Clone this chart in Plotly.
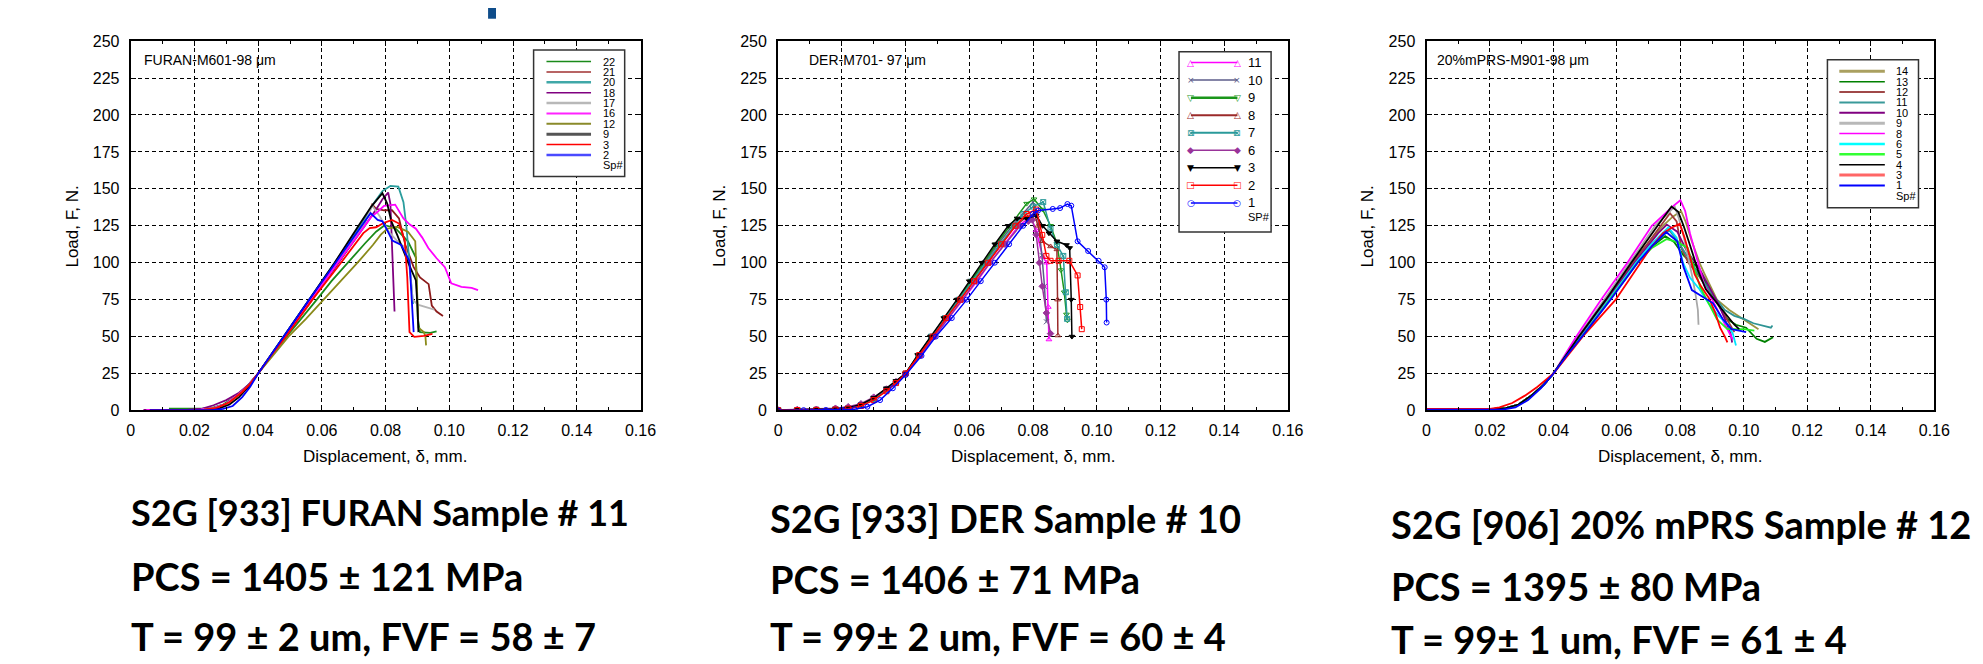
import plotly.graph_objects as go

W, H = 1983, 664

# ---------------- axis ticks ----------------
X_TICKS = [0, 0.02, 0.04, 0.06, 0.08, 0.10, 0.12, 0.14, 0.16]
X_TICKTEXT = ["0", "0.02", "0.04", "0.06", "0.08", "0.10", "0.12", "0.14", "0.16"]
Y_TICKS = [0, 25, 50, 75, 100, 125, 150, 175, 200, 225, 250]
Y_TICKTEXT = ["0", "25", "50", "75", "100", "125", "150", "175", "200", "225", "250"]

# ---------------- Panel 1: FURAN ----------------
F22_x = [0.012, 0.018, 0.0225, 0.026, 0.029, 0.032, 0.035, 0.0375, 0.040, 0.044, 0.049, 0.054, 0.0584, 0.063, 0.068, 0.0735, 0.077, 0.0797, 0.083, 0.087, 0.0895, 0.0901, 0.0908, 0.094, 0.096]
F22_y = [1.2, 1.2, 1.2, 2.0, 4.0, 8.0, 13.0, 18.5, 25.0, 37.0, 50.0, 63.0, 75.0, 87.5, 100.0, 113.0, 121.0, 125.4, 123.5, 114.5, 103.5, 62.0, 53.0, 52.5, 53.5]
F21_x = [0.005, 0.015, 0.022, 0.026, 0.030, 0.034, 0.037, 0.040, 0.044, 0.0485, 0.057, 0.0652, 0.073, 0.0758, 0.077, 0.0795, 0.082, 0.0842, 0.0862, 0.0888, 0.0908, 0.0935, 0.0945, 0.096, 0.098]
F21_y = [0.3, 0.4, 0.6, 1.5, 4.5, 11.0, 17.0, 25.0, 37.0, 50.0, 75.0, 100.0, 125.0, 139.5, 136.5, 135.5, 135.5, 130.0, 112.0, 97.0, 90.0, 85.5, 71.0, 67.0, 64.0]
F20_x = [0.006, 0.016, 0.022, 0.026, 0.030, 0.034, 0.037, 0.040, 0.044, 0.048, 0.056, 0.0642, 0.072, 0.0765, 0.079, 0.0815, 0.084, 0.0856, 0.0865, 0.0875, 0.0882, 0.0886]
F20_y = [0.3, 0.4, 0.6, 1.5, 4.5, 11.0, 17.5, 25.0, 37.5, 50.0, 75.0, 100.0, 125.0, 141.0, 148.5, 152.0, 151.5, 141.0, 125.0, 100.0, 84.0, 72.0]
F18_x = [0.004, 0.012, 0.018, 0.0225, 0.026, 0.030, 0.034, 0.037, 0.040, 0.044, 0.0485, 0.0568, 0.0652, 0.0735, 0.077, 0.079, 0.0808, 0.0815, 0.082, 0.0824, 0.0828]
F18_y = [0.3, 0.4, 0.6, 1.2, 3.5, 7.0, 12.0, 17.5, 25.0, 37.0, 50.0, 75.0, 100.0, 125.0, 136.0, 143.0, 147.5, 140.0, 112.0, 85.0, 67.0]
F17_x = [0.005, 0.015, 0.022, 0.026, 0.030, 0.034, 0.037, 0.040, 0.044, 0.0485, 0.057, 0.0648, 0.073, 0.0758, 0.078, 0.081, 0.0835, 0.0862, 0.0876, 0.0885, 0.0901, 0.093, 0.0953]
F17_y = [0.3, 0.4, 0.6, 1.5, 4.5, 11.0, 17.0, 25.0, 37.0, 50.0, 75.0, 100.0, 125.0, 138.5, 132.0, 121.0, 115.0, 110.0, 95.0, 75.0, 71.6, 69.5, 68.3]
F16_x = [0.005, 0.015, 0.022, 0.026, 0.030, 0.034, 0.037, 0.040, 0.044, 0.0485, 0.0565, 0.065, 0.073, 0.0755, 0.0775, 0.0795, 0.083, 0.0856, 0.0875, 0.0895, 0.0915, 0.0934, 0.096, 0.0986, 0.1006, 0.1038, 0.107, 0.109]
F16_y = [0.3, 0.4, 0.6, 1.5, 4.5, 11.0, 17.0, 25.0, 37.0, 50.0, 75.0, 100.0, 124.0, 131.0, 134.5, 138.5, 139.3, 130.0, 126.0, 123.0, 117.0, 110.0, 103.0, 97.0, 86.0, 83.7, 83.0, 81.5]
F12_x = [0.006, 0.016, 0.023, 0.027, 0.031, 0.035, 0.0375, 0.040, 0.0445, 0.0495, 0.055, 0.0606, 0.066, 0.0712, 0.076, 0.0785, 0.0805, 0.0836, 0.087, 0.0893, 0.0899, 0.0903, 0.092, 0.0925, 0.0927]
F12_y = [0.3, 0.4, 0.6, 1.8, 5.5, 12.5, 18.0, 25.0, 37.0, 50.0, 62.0, 75.0, 88.0, 100.0, 112.0, 119.0, 123.0, 124.3, 121.0, 114.5, 80.0, 56.0, 53.0, 50.0, 44.0]
F9_x = [0.008, 0.018, 0.025, 0.028, 0.031, 0.034, 0.037, 0.040, 0.044, 0.048, 0.056, 0.064, 0.0715, 0.0755, 0.079, 0.0805, 0.0818, 0.0836, 0.0869, 0.0895, 0.090, 0.0903]
F9_y = [0.2, 0.3, 0.5, 1.5, 4.0, 9.0, 16.0, 25.0, 37.5, 50.0, 75.0, 100.0, 125.0, 138.0, 147.0, 140.0, 128.0, 119.0, 101.0, 88.0, 70.0, 53.0]
F3_x = [0.006, 0.016, 0.023, 0.027, 0.031, 0.035, 0.0375, 0.040, 0.044, 0.0487, 0.057, 0.066, 0.0705, 0.073, 0.075, 0.077, 0.0795, 0.082, 0.0842, 0.086, 0.0868, 0.0875, 0.089, 0.092, 0.0947]
F3_y = [0.3, 0.4, 0.6, 1.8, 5.5, 12.5, 18.0, 25.0, 37.0, 50.0, 75.0, 100.0, 113.0, 120.0, 123.5, 124.0, 127.0, 129.0, 126.5, 115.0, 90.0, 53.0, 49.8, 50.5, 51.8]
F2_x = [0.006, 0.016, 0.026, 0.029, 0.032, 0.035, 0.0375, 0.040, 0.044, 0.048, 0.056, 0.0643, 0.0725, 0.0753, 0.0775, 0.079, 0.0805, 0.0821, 0.0849, 0.0875, 0.0882, 0.0888]
F2_y = [0.2, 0.3, 0.3, 1.0, 3.0, 9.0, 16.0, 25.0, 37.5, 50.0, 75.0, 100.0, 125.0, 133.5, 129.0, 128.0, 122.0, 115.0, 112.0, 101.0, 75.0, 53.0]

FURAN_NAMES = ["22", "21", "20", "18", "17", "16", "12", "9", "3", "2"]
FURAN_COLORS = ["#1a8a1a", "#8b1a1a", "#2a9d9d", "#800080", "#b4b4b4", "#ff00ff", "#8a8a1a", "#000000", "#ff0000", "#0000ff"]
FURAN_LEG_COLORS = ["#1a8a1a", "#a03030", "#40a8a8", "#800080", "#b8b8b8", "#ff22ff", "#8a8a2a", "#555555", "#ff0000", "#4a4aff"]
FURAN_LEG_WIDTHS = [1.5, 1.5, 2.5, 1.5, 2.5, 2, 2, 3, 1.5, 2.5]

# ---------------- Panel 2: DER ----------------
D11_x = [0.0, 0.006, 0.012, 0.018, 0.022, 0.026, 0.030, 0.034, 0.037, 0.040, 0.0445, 0.049, 0.0535, 0.058, 0.0625, 0.0665, 0.071, 0.0755, 0.0785, 0.0795, 0.081, 0.083, 0.0843, 0.0848, 0.085]
D11_y = [0.3, 0.4, 0.5, 0.8, 1.5, 3.5, 8.0, 14.0, 19.0, 25.0, 37.0, 50.0, 62.5, 75.0, 87.5, 100.0, 112.5, 125.0, 130.0, 130.0, 122.0, 104.0, 100.0, 70.0, 48.0]
D10_x = [0.0, 0.006, 0.012, 0.018, 0.022, 0.026, 0.030, 0.034, 0.037, 0.040, 0.044, 0.048, 0.0525, 0.0565, 0.0605, 0.0648, 0.069, 0.0735, 0.077, 0.080, 0.0815, 0.0828, 0.0836, 0.0842]
D10_y = [0.4, 0.3, 0.6, 1.0, 1.8, 4.0, 8.5, 14.5, 19.5, 25.0, 37.0, 50.0, 62.5, 75.0, 87.5, 100.0, 112.5, 125.0, 134.0, 141.0, 130.0, 105.0, 84.0, 60.0]
D9_x = [0.0, 0.006, 0.012, 0.018, 0.022, 0.026, 0.030, 0.034, 0.037, 0.040, 0.044, 0.048, 0.0522, 0.0565, 0.0605, 0.0645, 0.0685, 0.0728, 0.078, 0.0803, 0.083, 0.0855, 0.0875, 0.0888, 0.0898, 0.0905, 0.0908]
D9_y = [0.2, 0.4, 0.5, 0.7, 1.2, 3.0, 7.5, 14.0, 19.5, 25.0, 37.5, 50.0, 62.5, 75.0, 87.5, 100.0, 112.5, 125.0, 140.0, 143.0, 136.0, 125.0, 113.0, 95.0, 80.0, 65.0, 61.0]
D8_x = [0.0, 0.006, 0.012, 0.018, 0.022, 0.026, 0.030, 0.034, 0.037, 0.040, 0.0443, 0.0485, 0.0528, 0.057, 0.0612, 0.0655, 0.070, 0.0745, 0.078, 0.0805, 0.0815, 0.0829, 0.0855, 0.0875, 0.0877, 0.0878]
D8_y = [0.3, 0.5, 0.4, 0.9, 1.6, 3.8, 8.0, 14.0, 19.0, 25.0, 37.5, 50.0, 62.5, 75.0, 87.5, 100.0, 112.5, 125.0, 131.0, 133.0, 125.0, 114.5, 111.0, 109.0, 75.0, 50.7]
D7_x = [0.0, 0.006, 0.012, 0.018, 0.022, 0.026, 0.030, 0.034, 0.037, 0.040, 0.044, 0.048, 0.0524, 0.0568, 0.061, 0.0652, 0.0696, 0.074, 0.077, 0.080, 0.0832, 0.0855, 0.0875, 0.0895, 0.0903, 0.0907]
D7_y = [0.3, 0.3, 0.5, 0.8, 1.4, 3.4, 7.8, 14.0, 19.0, 25.0, 37.0, 50.0, 62.5, 75.0, 87.5, 100.0, 112.5, 125.0, 133.0, 138.0, 141.0, 123.0, 112.0, 104.6, 80.0, 62.0]
D6_x = [0.0, 0.006, 0.012, 0.018, 0.022, 0.026, 0.030, 0.034, 0.037, 0.040, 0.0445, 0.049, 0.0535, 0.0578, 0.0622, 0.0665, 0.0712, 0.076, 0.0785, 0.0798, 0.081, 0.082, 0.0829, 0.0842, 0.0855]
D6_y = [0.3, 0.6, 0.8, 1.5, 2.5, 4.5, 9.0, 14.5, 19.5, 25.0, 37.0, 50.0, 62.5, 75.0, 87.5, 100.0, 112.5, 125.0, 128.0, 129.0, 119.0, 100.0, 84.0, 66.0, 52.0]
D3_x = [0.0, 0.006, 0.012, 0.018, 0.022, 0.026, 0.030, 0.034, 0.037, 0.040, 0.0438, 0.0478, 0.052, 0.0561, 0.060, 0.0639, 0.068, 0.0722, 0.075, 0.078, 0.081, 0.083, 0.085, 0.0875, 0.0905, 0.0915, 0.092, 0.0922]
D3_y = [0.3, 0.4, 0.5, 0.9, 1.8, 4.0, 8.5, 15.0, 20.0, 25.0, 37.5, 50.0, 62.5, 75.0, 87.5, 100.0, 112.5, 125.0, 130.0, 130.0, 132.0, 125.0, 120.0, 114.5, 112.0, 110.0, 75.0, 50.0]
D2_x = [0.0, 0.006, 0.012, 0.018, 0.022, 0.026, 0.030, 0.034, 0.037, 0.040, 0.0443, 0.0485, 0.0528, 0.0572, 0.0615, 0.0658, 0.070, 0.0745, 0.078, 0.081, 0.0829, 0.0842, 0.0855, 0.088, 0.0914, 0.094, 0.0948, 0.0953]
D2_y = [0.2, 0.3, 0.4, 0.6, 1.2, 3.0, 7.0, 13.0, 18.5, 25.0, 37.5, 50.0, 62.5, 75.0, 87.5, 100.0, 112.5, 125.0, 133.0, 136.0, 118.8, 104.6, 101.3, 101.3, 101.3, 91.4, 70.0, 55.0]
D1_x = [0.0, 0.008, 0.015, 0.020, 0.024, 0.028, 0.032, 0.036, 0.040, 0.045, 0.0495, 0.0545, 0.0592, 0.0636, 0.068, 0.0725, 0.0769, 0.080, 0.0816, 0.0862, 0.0885, 0.0908, 0.092, 0.094, 0.0973, 0.1006, 0.1025, 0.103, 0.1031]
D1_y = [0.0, 0.2, 0.3, 0.4, 0.8, 2.5, 7.0, 15.0, 24.0, 37.0, 50.0, 62.5, 75.0, 87.5, 100.0, 112.5, 125.0, 133.0, 135.3, 136.4, 137.0, 139.7, 138.6, 114.5, 107.9, 101.3, 96.9, 75.0, 59.5]

DER_NAMES = ["11", "10", "9", "8", "7", "6", "3", "2", "1"]
DER_COLORS = ["#ff00ff", "#5c5c8a", "#1a961a", "#9b2a2a", "#2a9a9a", "#993399", "#000000", "#ff0000", "#0000ff"]
DER_SYMBOLS = ["triangle-up-open", "x-thin", "triangle-down-open", "triangle-up-open", "square-x-open",
               "diamond", "triangle-down", "square-open", "circle-open"]
DER_GLYPHS = ["\u25b3", "\u00d7", "\u25bd", "\u25b3", "\u22a0", "\u25c6", "\u25bc", "\u25a1", "\u25cb"]
DER_LEG_WIDTHS = [1.5, 1.5, 2.5, 2, 2, 1.5, 1.5, 1.5, 1.5]

# ---------------- Panel 3: 20% mPRS ----------------
P14_x = [0.0, 0.010, 0.020, 0.025, 0.029, 0.033, 0.037, 0.040, 0.044, 0.0485, 0.057, 0.065, 0.0695, 0.0745, 0.0775, 0.0802, 0.0816, 0.0835, 0.0862, 0.0876, 0.0895, 0.0915, 0.0954, 0.100, 0.1046]
P14_y = [0.8, 0.8, 0.8, 1.5, 4.0, 10.0, 17.5, 25.0, 37.5, 50.0, 75.0, 100.0, 112.5, 125.0, 131.0, 135.0, 128.0, 115.0, 99.0, 92.5, 84.0, 75.0, 68.0, 61.7, 55.0]
P13_x = [0.0, 0.010, 0.020, 0.025, 0.029, 0.033, 0.037, 0.040, 0.044, 0.0488, 0.0575, 0.0662, 0.0705, 0.0735, 0.0752, 0.078, 0.081, 0.0835, 0.0856, 0.0885, 0.0908, 0.0948, 0.0975, 0.1007, 0.104, 0.1066, 0.1092]
P13_y = [0.8, 0.8, 0.8, 1.5, 4.0, 10.0, 17.5, 25.0, 37.5, 50.0, 75.0, 100.0, 110.0, 115.5, 118.0, 114.0, 105.0, 100.0, 97.0, 84.0, 75.0, 61.7, 58.0, 56.0, 48.5, 46.4, 49.6]
P12_x = [0.0, 0.010, 0.020, 0.025, 0.029, 0.033, 0.037, 0.040, 0.044, 0.0485, 0.0568, 0.0648, 0.0695, 0.0738, 0.0767, 0.0788, 0.0803, 0.0825, 0.0855, 0.088, 0.091, 0.0935, 0.0955, 0.097]
P12_y = [0.8, 0.8, 0.8, 1.5, 4.0, 10.0, 17.5, 25.0, 37.5, 50.0, 75.0, 100.0, 112.5, 125.0, 133.5, 128.0, 110.0, 100.0, 92.0, 84.0, 76.0, 66.0, 58.0, 53.0]
P11_x = [0.0, 0.010, 0.020, 0.025, 0.029, 0.033, 0.037, 0.040, 0.044, 0.0488, 0.0575, 0.066, 0.071, 0.0765, 0.079, 0.082, 0.085, 0.088, 0.091, 0.094, 0.097, 0.100, 0.103, 0.106, 0.1085, 0.109]
P11_y = [0.8, 0.8, 0.8, 1.5, 4.0, 10.0, 17.5, 25.0, 37.5, 50.0, 75.0, 100.0, 112.0, 122.0, 115.0, 105.0, 95.0, 85.0, 76.0, 68.0, 64.0, 62.0, 59.0, 57.5, 56.0, 57.5]
P10_x = [0.0, 0.010, 0.020, 0.025, 0.029, 0.033, 0.037, 0.040, 0.044, 0.0486, 0.057, 0.0655, 0.073, 0.0757, 0.079, 0.082, 0.086, 0.089, 0.092, 0.094, 0.0958, 0.0963]
P10_y = [0.8, 0.8, 0.8, 1.5, 4.0, 10.0, 17.5, 25.0, 37.5, 50.0, 75.0, 100.0, 120.0, 125.8, 121.0, 108.0, 96.0, 84.0, 72.0, 62.0, 52.0, 46.0]
P9_x = [0.0, 0.010, 0.020, 0.025, 0.029, 0.033, 0.037, 0.040, 0.044, 0.0478, 0.056, 0.064, 0.072, 0.0782, 0.0795, 0.081, 0.0825, 0.0838, 0.0848, 0.0855, 0.0857]
P9_y = [0.8, 0.8, 0.8, 1.5, 4.0, 10.0, 17.5, 25.0, 38.0, 50.0, 75.0, 100.0, 125.0, 138.0, 130.0, 118.0, 104.0, 90.0, 78.0, 68.0, 58.0]
P8_x = [0.0, 0.010, 0.020, 0.025, 0.029, 0.033, 0.037, 0.040, 0.0438, 0.0472, 0.055, 0.0633, 0.071, 0.0775, 0.080, 0.0815, 0.083, 0.0855, 0.0875, 0.090, 0.0925, 0.095, 0.0965]
P8_y = [0.8, 0.8, 0.8, 1.5, 4.0, 10.0, 17.5, 25.0, 38.0, 50.0, 75.0, 100.0, 125.0, 138.0, 142.3, 135.0, 120.0, 100.0, 85.0, 75.0, 65.0, 55.0, 48.0]
P6_x = [0.0, 0.010, 0.020, 0.025, 0.029, 0.033, 0.037, 0.040, 0.044, 0.0488, 0.0575, 0.066, 0.071, 0.0762, 0.0788, 0.0808, 0.083, 0.086, 0.089, 0.092, 0.095, 0.0965, 0.0975]
P6_y = [0.8, 0.8, 0.8, 1.5, 4.0, 10.0, 17.5, 25.0, 37.5, 50.0, 75.0, 100.0, 113.0, 124.0, 117.0, 100.0, 90.0, 82.0, 72.0, 64.0, 58.0, 52.0, 44.0]
P5_x = [0.0, 0.010, 0.020, 0.025, 0.029, 0.033, 0.037, 0.040, 0.044, 0.049, 0.0578, 0.0665, 0.071, 0.0757, 0.079, 0.0823, 0.0862, 0.089, 0.0915, 0.0948, 0.100, 0.1033]
P5_y = [0.8, 0.8, 0.8, 1.5, 4.0, 10.0, 17.5, 25.0, 37.5, 50.0, 75.0, 100.0, 110.0, 116.0, 114.0, 110.0, 83.7, 72.0, 61.7, 55.0, 55.0, 54.0]
P4_x = [0.0, 0.010, 0.020, 0.025, 0.029, 0.033, 0.037, 0.040, 0.044, 0.048, 0.0565, 0.0645, 0.0728, 0.0772, 0.0793, 0.081, 0.083, 0.0855, 0.088, 0.091, 0.094, 0.097, 0.0985]
P4_y = [0.8, 0.8, 0.8, 1.5, 4.0, 10.0, 17.5, 25.0, 37.5, 50.0, 75.0, 100.0, 125.0, 138.0, 134.5, 125.0, 112.0, 95.0, 82.0, 74.0, 66.0, 58.0, 55.0]
P3_x = [0.0, 0.010, 0.020, 0.023, 0.027, 0.031, 0.035, 0.040, 0.0445, 0.0492, 0.0596, 0.0674, 0.0706, 0.0745, 0.0775, 0.0798, 0.0813, 0.083, 0.0845, 0.0865, 0.089, 0.091, 0.0925, 0.094, 0.0948]
P3_y = [1.0, 1.0, 1.0, 2.0, 5.0, 10.0, 16.0, 25.0, 37.0, 50.0, 75.0, 100.0, 110.0, 120.0, 124.0, 126.3, 117.0, 104.0, 92.0, 84.0, 76.0, 66.0, 56.0, 50.0, 46.0]
P1_x = [0.0, 0.010, 0.024, 0.028, 0.032, 0.036, 0.040, 0.0443, 0.049, 0.058, 0.0665, 0.071, 0.0755, 0.079, 0.081, 0.0836, 0.0869, 0.0902, 0.0934, 0.0961, 0.0985, 0.1007]
P1_y = [0.5, 0.5, 0.5, 2.0, 7.0, 15.0, 25.0, 37.5, 50.0, 75.0, 100.0, 111.0, 120.8, 114.5, 97.0, 81.5, 77.0, 72.7, 61.7, 55.0, 54.0, 53.0]

MPRS_NAMES = ["14", "13", "12", "11", "10", "9", "8", "6", "5", "4", "3", "1"]
MPRS_COLORS = ["#9a9440", "#008000", "#a03c3c", "#2e9494", "#800080", "#a8a8a8", "#ff00ff", "#00e5ff", "#22ee22", "#000000", "#ff0000", "#0000ff"]
MPRS_LEG_COLORS = ["#aaa060", "#008000", "#a04848", "#3a9a9a", "#800080", "#b8b8b8", "#ff00ff", "#00ffff", "#33ff33", "#000000", "#ff6666", "#0000ff"]
MPRS_LEG_WIDTHS = [3, 1.5, 2, 2, 2, 3, 1.5, 2.5, 2.5, 1.5, 3, 2]

# ---------------- text ----------------
PANEL_LABELS = ["FURAN-M601-98 \u03bcm", "DER-M701- 97 \u03bcm", "20%mPRS-M901-98 \u03bcm"]
Y_TITLE = "Load, F, N."
X_TITLE = "Displacement, \u03b4, mm."
NOTES_1 = ["S2G [933] FURAN Sample # 11", "PCS = 1405 \u00b1 121 MPa", "T = 99 \u00b1 2 um, FVF = 58 \u00b1 7"]
NOTES_2 = ["S2G [933] DER Sample # 10", "PCS = 1406 \u00b1 71 MPa", "T = 99\u00b1 2 um, FVF = 60 \u00b1 4"]
NOTES_3 = ["S2G [906] 20% mPRS Sample # 12", "PCS = 1395 \u00b1 80 MPa", "T = 99\u00b1 1 um, FVF = 61 \u00b1 4"]

FURAN_X = [F22_x, F21_x, F20_x, F18_x, F17_x, F16_x, F12_x, F9_x, F3_x, F2_x]
FURAN_Y = [F22_y, F21_y, F20_y, F18_y, F17_y, F16_y, F12_y, F9_y, F3_y, F2_y]
DER_X = [D11_x, D10_x, D9_x, D8_x, D7_x, D6_x, D3_x, D2_x, D1_x]
DER_Y = [D11_y, D10_y, D9_y, D8_y, D7_y, D6_y, D3_y, D2_y, D1_y]
MPRS_X = [P14_x, P13_x, P12_x, P11_x, P10_x, P9_x, P8_x, P6_x, P5_x, P4_x, P3_x, P1_x]
MPRS_Y = [P14_y, P13_y, P12_y, P11_y, P10_y, P9_y, P8_y, P6_y, P5_y, P4_y, P3_y, P1_y]


def fx(p):
    return p / W


def fy(p):
    return 1 - p / H


# panel pixel boxes (left, right); shared top/bottom
PANEL_X = [(128, 643), (782, 1297), (1437, 1950)]
TOP, BOT = 34, 413

AX_FONT = "Liberation Sans, Arial, sans-serif"

fig = go.Figure()

# Panel 1 traces
for xs, ys, nm, c in zip(FURAN_X, FURAN_Y, FURAN_NAMES, FURAN_COLORS):
    fig.add_trace(go.Scatter(x=xs, y=ys, name=nm, mode="lines", line=dict(color=c, width=1.8),
                             xaxis="x", yaxis="y", showlegend=False))

# Panel 2 traces
for xs, ys, nm, c, s in zip(DER_X, DER_Y, DER_NAMES, DER_COLORS, DER_SYMBOLS):
    fig.add_trace(go.Scatter(x=xs, y=ys, name=nm, mode="lines+markers",
                             line=dict(color=c, width=1.5),
                             marker=dict(symbol=s, size=5, color=c, line=dict(color=c, width=1)),
                             xaxis="x2", yaxis="y2", showlegend=False))

# Panel 3 traces
for xs, ys, nm, c in zip(MPRS_X, MPRS_Y, MPRS_NAMES, MPRS_COLORS):
    fig.add_trace(go.Scatter(x=xs, y=ys, name=nm, mode="lines", line=dict(color=c, width=1.8),
                             xaxis="x3", yaxis="y3", showlegend=False))


def xaxis_cfg(x0, x1, anchor):
    return dict(domain=[fx(x0), fx(x1)], anchor=anchor, range=[0, 0.16],
                tickmode="array", tickvals=X_TICKS, ticktext=X_TICKTEXT,
                showgrid=True, gridcolor="black", griddash="4px,3px", gridwidth=1,
                showline=True, linecolor="black", linewidth=2, mirror="ticks",
                ticks="inside", ticklen=5, tickcolor="black", tickwidth=1,
                minor=dict(tickmode="linear", tick0=0, dtick=0.01, ticks="inside", ticklen=3,
                           tickcolor="black", showgrid=False),
                zeroline=False, fixedrange=True, ticklabelstandoff=4,
                tickfont=dict(family=AX_FONT, size=16, color="black"))


def yaxis_cfg(anchor):
    return dict(domain=[fy(BOT), fy(TOP)], anchor=anchor, range=[0, 250],
                tickmode="array", tickvals=Y_TICKS, ticktext=Y_TICKTEXT,
                showgrid=True, gridcolor="black", griddash="4px,3px", gridwidth=1,
                showline=True, linecolor="black", linewidth=2, mirror="ticks",
                ticks="inside", ticklen=5, tickcolor="black", tickwidth=1,
                zeroline=False, fixedrange=True, ticklabelstandoff=6,
                tickfont=dict(family=AX_FONT, size=16, color="black"))


annotations = []
shapes = []

Y_TITLE_X = [69, 723, 1377]
X_TITLE_X = [385, 1039, 1693]
LABEL_X = [139, 811, 1446]
for i in range(3):
    annotations.append(dict(x=fx(Y_TITLE_X[i]), y=fy(224), xref="paper", yref="paper", text=Y_TITLE,
                            textangle=-90, showarrow=False, xanchor="center", yanchor="middle",
                            font=dict(family=AX_FONT, size=17, color="black")))
    annotations.append(dict(x=fx(X_TITLE_X[i]), y=fy(460), xref="paper", yref="paper", text=X_TITLE,
                            showarrow=False, xanchor="center", yanchor="middle",
                            font=dict(family=AX_FONT, size=17, color="black")))
    annotations.append(dict(x=fx(LABEL_X[i]), y=fy(53), xref="paper", yref="paper", text=PANEL_LABELS[i],
                            showarrow=False, xanchor="left", yanchor="middle",
                            font=dict(family=AX_FONT, size=14, color="black")))

# bottom notes
NOTE_BLOCKS = [
    (NOTES_1, 126, [517, 583, 645], [36, 38, 38]),
    (NOTES_2, 772, [523, 586, 645], [38, 38, 38]),
    (NOTES_3, 1399, [530, 593, 648], [38, 38, 38]),
]
for notes, x0, ys, sizes in NOTE_BLOCKS:
    for t, yy, sz in zip(notes, ys, sizes):
        annotations.append(dict(x=fx(x0), y=fy(yy), xref="paper", yref="paper", text=t,
                                showarrow=False, xanchor="left", yanchor="middle",
                                font=dict(family="Lato, sans-serif", size=sz, color="black", weight="bold")))


# custom legends drawn from the series names / colours
def panel_legend(box, names, colors, widths, first_y, step, line_x, text_x, title, title_y,
                 fsize, title_size, glyphs=None):
    l, t, r, b = box
    shapes.append(dict(type="rect", xref="paper", yref="paper", x0=fx(l), x1=fx(r), y0=fy(b), y1=fy(t),
                       line=dict(color="#333333", width=1.5), fillcolor="white", layer="above"))
    for k, (nm, c, w) in enumerate(zip(names, colors, widths)):
        yy = first_y + k * step
        shapes.append(dict(type="line", xref="paper", yref="paper", x0=fx(line_x[0]), x1=fx(line_x[1]),
                           y0=fy(yy), y1=fy(yy), line=dict(color=c, width=w), layer="above"))
        annotations.append(dict(x=fx(text_x), y=fy(yy), xref="paper", yref="paper", text=nm,
                                showarrow=False, xanchor="left", yanchor="middle",
                                font=dict(family=AX_FONT, size=fsize, color="black")))
        if glyphs is not None:
            for gx in line_x:
                annotations.append(dict(x=fx(gx), y=fy(yy), xref="paper", yref="paper", text=glyphs[k],
                                        showarrow=False, xanchor="center", yanchor="middle",
                                        font=dict(family="DejaVu Sans", size=9, color=c)))
    annotations.append(dict(x=fx(text_x), y=fy(title_y), xref="paper", yref="paper",
                            text=title, showarrow=False, xanchor="left", yanchor="middle",
                            font=dict(family=AX_FONT, size=title_size, color="black")))


panel_legend((535, 43, 627, 173), FURAN_NAMES, FURAN_LEG_COLORS, FURAN_LEG_WIDTHS,
             55, 10.65, (548, 593), 603, "Sp#", 55 + 10 * 10.65, 11, 11)
panel_legend((1187, 45, 1280, 230), DER_NAMES, DER_COLORS, DER_LEG_WIDTHS,
             56, 18, (1199, 1246), 1255, "SP#", 214, 13, 11, glyphs=DER_GLYPHS)
panel_legend((1842, 53, 1934, 205), MPRS_NAMES, MPRS_LEG_COLORS, MPRS_LEG_WIDTHS,
             65, 10.65, (1854, 1900), 1909, "Sp#", 65 + 12 * 10.65, 11, 11)

# blue mark at top (slide decoration)
shapes.append(dict(type="rect", xref="paper", yref="paper", x0=fx(489), x1=fx(497), y0=fy(11), y1=fy(0),
                   line=dict(width=0), fillcolor="#0f4d8a", layer="above"))

fig.update_layout(
    width=W, height=H,
    margin=dict(l=0, r=0, t=0, b=0),
    paper_bgcolor="white", plot_bgcolor="white",
    xaxis=xaxis_cfg(*PANEL_X[0], "y"), yaxis=yaxis_cfg("x"),
    xaxis2=xaxis_cfg(*PANEL_X[1], "y2"), yaxis2=yaxis_cfg("x2"),
    xaxis3=xaxis_cfg(*PANEL_X[2], "y3"), yaxis3=yaxis_cfg("x3"),
    annotations=annotations, shapes=shapes,
    showlegend=False,
)

fig.write_html("out.html", config={"displayModeBar": False},
               post_script="document.body.style.margin='0px';")
